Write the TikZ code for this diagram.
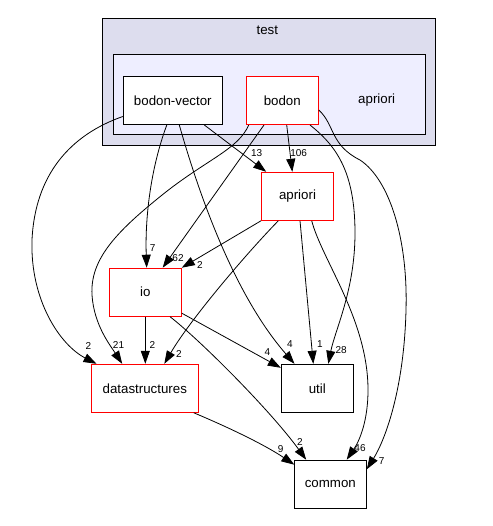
\documentclass[tikz,border=0pt]{standalone}
\usepackage{fontspec}
\setmainfont{Liberation Sans}
\usepackage{tikz}
\usetikzlibrary{arrows.meta,calc}
\definecolor{outerfill}{HTML}{DDDDEE}
\definecolor{innerfill}{HTML}{EEEEFF}

\begin{document}
\begin{tikzpicture}[x=1pt,y=-1pt,
  cluster/.style={draw=black,line width=1pt,inner sep=0pt},
  dirbox/.style={draw=black,fill=white,line width=1pt,inner sep=0pt,minimum width=72pt,minimum height=48pt,font=\fontsize{13.3}{16}\selectfont},
  reddir/.style={dirbox,draw=red},
  dep/.style={line width=0.8pt,-{Triangle[length=13pt,width=9pt]}},
  num/.style={inner sep=0pt,font=\fontsize{10}{12}\selectfont}]
\useasboundingbox (0,0) rectangle (492,526);
\node[cluster,fill=outerfill,minimum width=332.3pt,minimum height=127pt] (test) at (268.85,81.8) {};
\node[font=\fontsize{13.3}{16}\selectfont,inner sep=0pt] (testlabel) at (267.3,30) {test};
\node[cluster,fill=innerfill,minimum width=311.7pt,minimum height=80pt] (apr) at (269.15,94.3) {};
\node[font=\fontsize{13.3}{16}\selectfont,inner sep=0pt] (aprlabel) at (376.7,100) {apriori};
\node[dirbox,minimum width=99pt] (bv) at (172.8,100.5) {bodon-vector};
\node[reddir] (bodon) at (282.3,100.5) {bodon};
\node[reddir] (apriori) at (297.5,196.3) {apriori};
\node[reddir] (io) at (145.3,292.2) {io};
\node[reddir,minimum width=107pt] (ds) at (144.8,388.3) {datastructures};
\node[dirbox] (util) at (317.3,388.3) {util};
\node[dirbox] (common) at (330.3,484.2) {common};
% from bodon-vector
\draw[dep] ($(bv.west)+(0,16)$) .. controls (70,135) and (35,175) .. (32,240) .. controls (30,300) and (60,345) .. ($(ds.north west)+(5.7,0)$);
\draw[dep] ($(bv.south)+(-6,0)$) .. controls (150,170) and (145,220) .. ($(io.north)+(1.4,0)$);
\draw[dep] ($(bv.south)+(6.5,0)$) .. controls (195,180) and (230,290) .. ($(util.north west)+(13.7,0)$);
\draw[dep] ($(bv.south)+(31.5,0)$) -- ($(apriori.north west)+(5.2,0)$);
\node[num] (n1) at (88.3,346.5) {2};
\node[num] (n2) at (152.7,248.5) {7};
\node[num] (n3) at (290,344) {4};
\node[num] (n4) at (256.7,153.5) {13};
% from bodon
\draw[dep] ($(bodon.south)+(-33.6,0)$) .. controls (238,150) and (205,160) .. (160,196.7) .. controls (115,233) and (90,260) .. (92,295) .. controls (94,325) and (110,345) .. ($(ds.north west)+(31.4,0)$);
\draw[dep] ($(bodon.south)+(-18.3,0)$) -- ($(io.north)+(17.4,0)$);
\draw[dep] ($(bodon.south)+(4.4,0)$) -- ($(apriori.north)+(-5.2,0)$);
\draw[dep] ($(bodon.south)+(27.7,0)$) .. controls (335,145) and (355,170) .. (355,233) .. controls (355,290) and (335,330) .. ($(util.north)+(11,0)$);
\draw[dep] ($(bodon.east)+(0,9.5)$) .. controls (335,125) and (330,145) .. (360,160) .. controls (390,180) and (408,240) .. (406,310) .. controls (404,390) and (385,440) .. ($(common.east)+(0,-14.9)$);
\node[num] (n5) at (118.5,345) {21};
\node[num] (n6) at (178,258.3) {62};
\node[num] (n7) at (298.7,153) {106};
\node[num] (n8) at (341.2,350) {28};
\node[num] (n9) at (381.7,460.7) {7};
% from apriori
\draw[dep] (apriori.south west) -- (io.north east);
\draw[dep] ($(apriori.south)+(-19.2,0)$) .. controls (245,255) and (190,320) .. ($(ds.north)+(19.5,0)$);
\draw[dep] ($(apriori.south)+(2.5,0)$) -- ($(util.north)+(-4,0)$);
\draw[dep] ($(apriori.south)+(14.2,0)$) .. controls (322,260) and (368,320) .. (368,390) .. controls (368,420) and (360,440) .. ($(common.north)+(16.4,0)$);
\node[num] (n10) at (200,265) {2};
\node[num] (n11) at (179,354) {2};
\node[num] (n12) at (320,344.5) {1};
\node[num] (n13) at (360,448.3) {46};
% from io and datastructures
\draw[dep] (io.south) -- (io.south |- ds.north);
\draw[dep] ($(io.south east)+(0,-3.5)$) -- ($(util.north west)+(0,4)$);
\draw[dep] ($(io.south)+(24.7,0)$) .. controls (200,340) and (270,410) .. ($(common.north west)+(12.4,0)$);
\draw[dep] ($(ds.south east)+(-5,0)$) .. controls (230,428) and (265,445) .. ($(common.north west)+(0.5,5)$);
\node[num] (n14) at (152.3,345.5) {2};
\node[num] (n15) at (267.3,352) {4};
\node[num] (n16) at (300,441.7) {2};
\node[num] (n17) at (280.7,449) {9};
\end{tikzpicture}
\end{document}
